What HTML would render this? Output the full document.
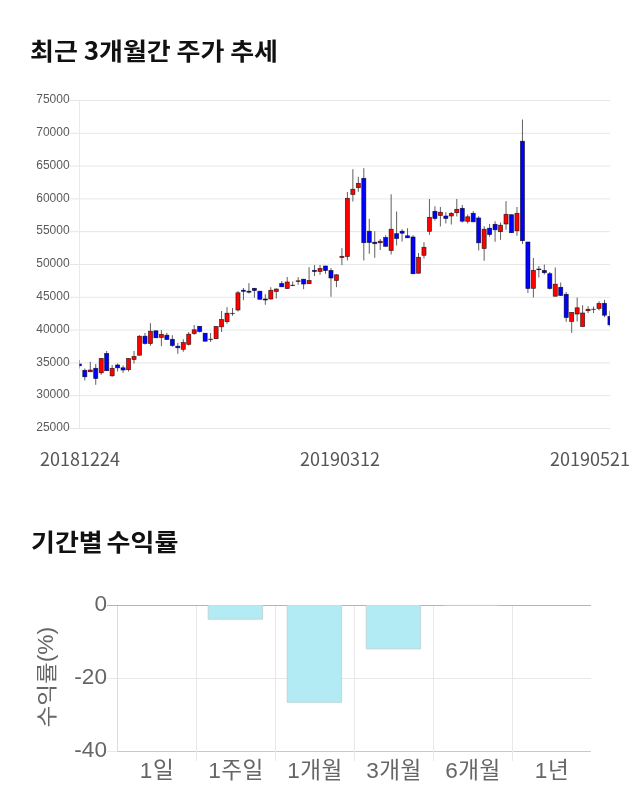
<!DOCTYPE html>
<html lang="ko"><head><meta charset="utf-8"><title>최근 3개월간 주가 추세</title>
<style>
html,body{margin:0;padding:0;background:#fff;}
body{width:640px;height:810px;position:relative;overflow:hidden;font-family:"Liberation Sans","Noto Sans CJK KR",sans-serif;}
h2{position:absolute;margin:0;left:30px;font-family:"Noto Sans CJK KR","Liberation Sans",sans-serif;font-weight:700;font-size:26px;line-height:36px;color:#111;white-space:nowrap;word-spacing:-1.5px;transform-origin:0 50%;transform:scaleY(0.927);}
h2 span{display:inline-block;transform-origin:0 78%;transform:scaleY(1.079);}
.yl{font-family:"Liberation Sans",sans-serif;font-size:12px;fill:#5a5a5a;}
.bx{font-size:23px;letter-spacing:0.5px;}
.xl{position:absolute;top:444px;font-family:"Noto Sans CJK KR","Liberation Sans",sans-serif;font-size:18px;line-height:28px;color:#555;white-space:nowrap;}
.bl{font-family:"Liberation Sans","Noto Sans CJK KR",sans-serif;font-size:22.6px;fill:#666;}
</style></head><body>
<h2 style="top:32.3px">최근 <span>3</span>개월간 주가 추세</h2>
<svg width="640" height="500" viewBox="0 0 640 500" style="position:absolute;left:0;top:0">
<line x1="69.5" x2="610" y1="100.50" y2="100.50" stroke="#e6e6e6" stroke-width="1"/>
<line x1="69.5" x2="610" y1="133.30" y2="133.30" stroke="#e6e6e6" stroke-width="1"/>
<line x1="69.5" x2="610" y1="166.10" y2="166.10" stroke="#e6e6e6" stroke-width="1"/>
<line x1="69.5" x2="610" y1="198.90" y2="198.90" stroke="#e6e6e6" stroke-width="1"/>
<line x1="69.5" x2="610" y1="231.70" y2="231.70" stroke="#e6e6e6" stroke-width="1"/>
<line x1="69.5" x2="610" y1="264.50" y2="264.50" stroke="#e6e6e6" stroke-width="1"/>
<line x1="69.5" x2="610" y1="297.30" y2="297.30" stroke="#e6e6e6" stroke-width="1"/>
<line x1="69.5" x2="610" y1="330.10" y2="330.10" stroke="#e6e6e6" stroke-width="1"/>
<line x1="69.5" x2="610" y1="362.90" y2="362.90" stroke="#e6e6e6" stroke-width="1"/>
<line x1="69.5" x2="610" y1="395.70" y2="395.70" stroke="#e6e6e6" stroke-width="1"/>
<line x1="69.5" x2="610" y1="428.50" y2="428.50" stroke="#e6e6e6" stroke-width="1"/>
<line x1="79.5" x2="79.5" y1="100" y2="428.5" stroke="#e9e9e9" stroke-width="1"/>
<clipPath id="cp"><rect x="79.5" y="95" width="530.5" height="340"/></clipPath>
<g clip-path="url(#cp)">
<line x1="79.33" x2="79.33" y1="360.0" y2="368.5" stroke="#606060" stroke-width="1"/>
<rect x="77.28" y="364.0" width="4.1" height="1.8" fill="#0000ff" stroke="#000" stroke-opacity="0.72" stroke-width="0.7"/>
<line x1="84.80" x2="84.80" y1="368.5" y2="380.5" stroke="#606060" stroke-width="1"/>
<rect x="82.75" y="370.3" width="4.1" height="6.5" fill="#0000ff" stroke="#000" stroke-opacity="0.72" stroke-width="0.7"/>
<line x1="90.27" x2="90.27" y1="361.8" y2="372.0" stroke="#606060" stroke-width="1"/>
<rect x="88.22" y="370.0" width="4.1" height="1.8" fill="#ff0000" stroke="#000" stroke-opacity="0.72" stroke-width="0.7"/>
<line x1="95.74" x2="95.74" y1="364.0" y2="384.8" stroke="#606060" stroke-width="1"/>
<rect x="93.69" y="368.3" width="4.1" height="10.2" fill="#0000ff" stroke="#000" stroke-opacity="0.72" stroke-width="0.7"/>
<line x1="101.21" x2="101.21" y1="358.0" y2="374.8" stroke="#606060" stroke-width="1"/>
<rect x="99.16" y="358.5" width="4.1" height="14.3" fill="#ff0000" stroke="#000" stroke-opacity="0.72" stroke-width="0.7"/>
<line x1="106.68" x2="106.68" y1="351.0" y2="371.0" stroke="#606060" stroke-width="1"/>
<rect x="104.63" y="353.5" width="4.1" height="17.2" fill="#0000ff" stroke="#000" stroke-opacity="0.72" stroke-width="0.7"/>
<line x1="112.15" x2="112.15" y1="365.0" y2="376.8" stroke="#606060" stroke-width="1"/>
<rect x="110.10" y="368.3" width="4.1" height="7.5" fill="#ff0000" stroke="#000" stroke-opacity="0.72" stroke-width="0.7"/>
<line x1="117.62" x2="117.62" y1="363.5" y2="371.5" stroke="#606060" stroke-width="1"/>
<rect x="115.57" y="365.0" width="4.1" height="2.8" fill="#0000ff" stroke="#000" stroke-opacity="0.72" stroke-width="0.7"/>
<line x1="123.09" x2="123.09" y1="365.5" y2="372.8" stroke="#606060" stroke-width="1"/>
<rect x="121.04" y="367.8" width="4.1" height="2.2" fill="#0000ff" stroke="#000" stroke-opacity="0.72" stroke-width="0.7"/>
<line x1="128.56" x2="128.56" y1="358.3" y2="371.5" stroke="#606060" stroke-width="1"/>
<rect x="126.51" y="358.5" width="4.1" height="11.2" fill="#ff0000" stroke="#000" stroke-opacity="0.72" stroke-width="0.7"/>
<line x1="134.03" x2="134.03" y1="351.0" y2="363.5" stroke="#606060" stroke-width="1"/>
<rect x="131.98" y="356.5" width="4.1" height="3.0" fill="#ff0000" stroke="#000" stroke-opacity="0.72" stroke-width="0.7"/>
<line x1="139.51" x2="139.51" y1="335.2" y2="355.5" stroke="#606060" stroke-width="1"/>
<rect x="137.46" y="336.2" width="4.1" height="19.0" fill="#ff0000" stroke="#000" stroke-opacity="0.72" stroke-width="0.7"/>
<line x1="144.98" x2="144.98" y1="333.0" y2="344.5" stroke="#606060" stroke-width="1"/>
<rect x="142.93" y="336.2" width="4.1" height="7.3" fill="#0000ff" stroke="#000" stroke-opacity="0.72" stroke-width="0.7"/>
<line x1="150.45" x2="150.45" y1="323.2" y2="345.8" stroke="#606060" stroke-width="1"/>
<rect x="148.40" y="331.2" width="4.1" height="12.3" fill="#ff0000" stroke="#000" stroke-opacity="0.72" stroke-width="0.7"/>
<line x1="155.92" x2="155.92" y1="330.5" y2="338.0" stroke="#606060" stroke-width="1"/>
<rect x="153.87" y="330.8" width="4.1" height="7.0" fill="#0000ff" stroke="#000" stroke-opacity="0.72" stroke-width="0.7"/>
<line x1="161.39" x2="161.39" y1="330.0" y2="346.2" stroke="#606060" stroke-width="1"/>
<rect x="159.34" y="334.3" width="4.1" height="3.2" fill="#ff0000" stroke="#000" stroke-opacity="0.72" stroke-width="0.7"/>
<line x1="166.86" x2="166.86" y1="332.8" y2="339.8" stroke="#606060" stroke-width="1"/>
<rect x="164.81" y="335.2" width="4.1" height="4.3" fill="#0000ff" stroke="#000" stroke-opacity="0.72" stroke-width="0.7"/>
<line x1="172.33" x2="172.33" y1="335.2" y2="346.8" stroke="#606060" stroke-width="1"/>
<rect x="170.28" y="339.3" width="4.1" height="6.2" fill="#0000ff" stroke="#000" stroke-opacity="0.72" stroke-width="0.7"/>
<line x1="177.80" x2="177.80" y1="343.0" y2="353.8" stroke="#606060" stroke-width="1"/>
<rect x="175.75" y="346.2" width="4.1" height="1.6" fill="#0000ff" stroke="#000" stroke-opacity="0.72" stroke-width="0.7"/>
<line x1="183.27" x2="183.27" y1="339.2" y2="351.8" stroke="#606060" stroke-width="1"/>
<rect x="181.22" y="342.5" width="4.1" height="6.8" fill="#ff0000" stroke="#000" stroke-opacity="0.72" stroke-width="0.7"/>
<line x1="188.74" x2="188.74" y1="332.0" y2="345.5" stroke="#606060" stroke-width="1"/>
<rect x="186.69" y="334.2" width="4.1" height="10.1" fill="#ff0000" stroke="#000" stroke-opacity="0.72" stroke-width="0.7"/>
<line x1="194.21" x2="194.21" y1="325.0" y2="334.8" stroke="#606060" stroke-width="1"/>
<rect x="192.16" y="329.8" width="4.1" height="3.7" fill="#ff0000" stroke="#000" stroke-opacity="0.72" stroke-width="0.7"/>
<line x1="199.68" x2="199.68" y1="326.0" y2="332.5" stroke="#606060" stroke-width="1"/>
<rect x="197.63" y="326.3" width="4.1" height="5.2" fill="#0000ff" stroke="#000" stroke-opacity="0.72" stroke-width="0.7"/>
<line x1="205.15" x2="205.15" y1="333.0" y2="341.5" stroke="#606060" stroke-width="1"/>
<rect x="203.10" y="333.2" width="4.1" height="8.0" fill="#0000ff" stroke="#000" stroke-opacity="0.72" stroke-width="0.7"/>
<line x1="210.62" x2="210.62" y1="333.0" y2="342.0" stroke="#606060" stroke-width="1"/>
<rect x="208.57" y="339.0" width="4.1" height="0.7" fill="#333333" stroke="#000" stroke-opacity="0.35" stroke-width="0.7"/>
<line x1="216.09" x2="216.09" y1="326.2" y2="339.0" stroke="#606060" stroke-width="1"/>
<rect x="214.04" y="326.5" width="4.1" height="12.2" fill="#ff0000" stroke="#000" stroke-opacity="0.72" stroke-width="0.7"/>
<line x1="221.56" x2="221.56" y1="311.0" y2="332.0" stroke="#606060" stroke-width="1"/>
<rect x="219.51" y="319.5" width="4.1" height="7.3" fill="#ff0000" stroke="#000" stroke-opacity="0.72" stroke-width="0.7"/>
<line x1="227.03" x2="227.03" y1="307.2" y2="323.8" stroke="#606060" stroke-width="1"/>
<rect x="224.98" y="313.2" width="4.1" height="8.5" fill="#ff0000" stroke="#000" stroke-opacity="0.72" stroke-width="0.7"/>
<line x1="232.50" x2="232.50" y1="308.0" y2="315.8" stroke="#606060" stroke-width="1"/>
<rect x="230.45" y="313.2" width="4.1" height="0.6" fill="#333333" stroke="#000" stroke-opacity="0.35" stroke-width="0.7"/>
<line x1="237.97" x2="237.97" y1="291.0" y2="311.5" stroke="#606060" stroke-width="1"/>
<rect x="235.92" y="292.8" width="4.1" height="17.2" fill="#ff0000" stroke="#000" stroke-opacity="0.72" stroke-width="0.7"/>
<line x1="243.44" x2="243.44" y1="288.0" y2="300.2" stroke="#606060" stroke-width="1"/>
<rect x="241.39" y="290.2" width="4.1" height="1.1" fill="#0000ff" stroke="#000" stroke-opacity="0.72" stroke-width="0.7"/>
<line x1="248.92" x2="248.92" y1="283.2" y2="293.5" stroke="#606060" stroke-width="1"/>
<rect x="246.87" y="291.2" width="4.1" height="1.0" fill="#0000ff" stroke="#000" stroke-opacity="0.72" stroke-width="0.7"/>
<line x1="254.39" x2="254.39" y1="288.0" y2="297.8" stroke="#606060" stroke-width="1"/>
<rect x="252.34" y="288.3" width="4.1" height="2.2" fill="#0000ff" stroke="#000" stroke-opacity="0.72" stroke-width="0.7"/>
<line x1="259.86" x2="259.86" y1="291.0" y2="299.5" stroke="#606060" stroke-width="1"/>
<rect x="257.81" y="291.2" width="4.1" height="8.1" fill="#0000ff" stroke="#000" stroke-opacity="0.72" stroke-width="0.7"/>
<line x1="265.33" x2="265.33" y1="294.2" y2="304.8" stroke="#606060" stroke-width="1"/>
<rect x="263.28" y="299.0" width="4.1" height="1.0" fill="#0000ff" stroke="#000" stroke-opacity="0.72" stroke-width="0.7"/>
<line x1="270.80" x2="270.80" y1="287.2" y2="299.5" stroke="#606060" stroke-width="1"/>
<rect x="268.75" y="290.3" width="4.1" height="8.7" fill="#ff0000" stroke="#000" stroke-opacity="0.72" stroke-width="0.7"/>
<line x1="276.27" x2="276.27" y1="288.5" y2="298.5" stroke="#606060" stroke-width="1"/>
<rect x="274.22" y="289.0" width="4.1" height="2.5" fill="#ff0000" stroke="#000" stroke-opacity="0.72" stroke-width="0.7"/>
<line x1="281.74" x2="281.74" y1="281.0" y2="287.0" stroke="#606060" stroke-width="1"/>
<rect x="279.69" y="283.5" width="4.1" height="3.3" fill="#0000ff" stroke="#000" stroke-opacity="0.72" stroke-width="0.7"/>
<line x1="287.21" x2="287.21" y1="277.0" y2="288.8" stroke="#606060" stroke-width="1"/>
<rect x="285.16" y="282.0" width="4.1" height="6.5" fill="#ff0000" stroke="#000" stroke-opacity="0.72" stroke-width="0.7"/>
<line x1="292.68" x2="292.68" y1="281.5" y2="286.2" stroke="#606060" stroke-width="1"/>
<rect x="290.63" y="285.0" width="4.1" height="0.7" fill="#333333" stroke="#000" stroke-opacity="0.35" stroke-width="0.7"/>
<line x1="298.15" x2="298.15" y1="277.2" y2="284.8" stroke="#606060" stroke-width="1"/>
<rect x="296.10" y="280.8" width="4.1" height="0.7" fill="#ff0000" stroke="#000" stroke-opacity="0.72" stroke-width="0.7"/>
<line x1="303.62" x2="303.62" y1="279.0" y2="289.2" stroke="#606060" stroke-width="1"/>
<rect x="301.57" y="279.2" width="4.1" height="4.8" fill="#0000ff" stroke="#000" stroke-opacity="0.72" stroke-width="0.7"/>
<line x1="309.09" x2="309.09" y1="267.2" y2="283.8" stroke="#606060" stroke-width="1"/>
<rect x="307.04" y="280.5" width="4.1" height="3.2" fill="#ff0000" stroke="#000" stroke-opacity="0.72" stroke-width="0.7"/>
<line x1="314.56" x2="314.56" y1="265.0" y2="276.0" stroke="#606060" stroke-width="1"/>
<rect x="312.51" y="270.3" width="4.1" height="1.2" fill="#0000ff" stroke="#000" stroke-opacity="0.72" stroke-width="0.7"/>
<line x1="320.03" x2="320.03" y1="265.0" y2="274.8" stroke="#606060" stroke-width="1"/>
<rect x="317.98" y="268.5" width="4.1" height="3.0" fill="#ff0000" stroke="#000" stroke-opacity="0.72" stroke-width="0.7"/>
<line x1="325.50" x2="325.50" y1="265.8" y2="273.8" stroke="#606060" stroke-width="1"/>
<rect x="323.45" y="266.0" width="4.1" height="4.5" fill="#0000ff" stroke="#000" stroke-opacity="0.72" stroke-width="0.7"/>
<line x1="330.97" x2="330.97" y1="268.0" y2="296.8" stroke="#606060" stroke-width="1"/>
<rect x="328.92" y="270.5" width="4.1" height="7.5" fill="#0000ff" stroke="#000" stroke-opacity="0.72" stroke-width="0.7"/>
<line x1="336.44" x2="336.44" y1="274.3" y2="287.2" stroke="#606060" stroke-width="1"/>
<rect x="334.39" y="274.8" width="4.1" height="5.7" fill="#ff0000" stroke="#000" stroke-opacity="0.72" stroke-width="0.7"/>
<line x1="341.91" x2="341.91" y1="248.2" y2="265.2" stroke="#606060" stroke-width="1"/>
<rect x="339.86" y="256.3" width="4.1" height="1.2" fill="#ff0000" stroke="#000" stroke-opacity="0.72" stroke-width="0.7"/>
<line x1="347.38" x2="347.38" y1="192.0" y2="260.5" stroke="#606060" stroke-width="1"/>
<rect x="345.33" y="198.3" width="4.1" height="58.2" fill="#ff0000" stroke="#000" stroke-opacity="0.72" stroke-width="0.7"/>
<line x1="352.86" x2="352.86" y1="169.2" y2="201.5" stroke="#606060" stroke-width="1"/>
<rect x="350.81" y="189.2" width="4.1" height="5.3" fill="#ff0000" stroke="#000" stroke-opacity="0.72" stroke-width="0.7"/>
<line x1="358.33" x2="358.33" y1="176.8" y2="191.8" stroke="#606060" stroke-width="1"/>
<rect x="356.28" y="183.3" width="4.1" height="4.4" fill="#ff0000" stroke="#000" stroke-opacity="0.72" stroke-width="0.7"/>
<line x1="363.80" x2="363.80" y1="168.2" y2="260.5" stroke="#606060" stroke-width="1"/>
<rect x="361.75" y="178.3" width="4.1" height="64.4" fill="#0000ff" stroke="#000" stroke-opacity="0.72" stroke-width="0.7"/>
<line x1="369.27" x2="369.27" y1="218.8" y2="253.8" stroke="#606060" stroke-width="1"/>
<rect x="367.22" y="231.2" width="4.1" height="11.3" fill="#0000ff" stroke="#000" stroke-opacity="0.72" stroke-width="0.7"/>
<line x1="374.74" x2="374.74" y1="231.2" y2="257.8" stroke="#606060" stroke-width="1"/>
<rect x="372.69" y="242.2" width="4.1" height="1.5" fill="#0000ff" stroke="#000" stroke-opacity="0.72" stroke-width="0.7"/>
<line x1="380.21" x2="380.21" y1="239.0" y2="250.0" stroke="#606060" stroke-width="1"/>
<rect x="378.16" y="241.2" width="4.1" height="1.6" fill="#ff0000" stroke="#000" stroke-opacity="0.72" stroke-width="0.7"/>
<line x1="385.68" x2="385.68" y1="235.2" y2="246.5" stroke="#606060" stroke-width="1"/>
<rect x="383.63" y="237.5" width="4.1" height="8.8" fill="#0000ff" stroke="#000" stroke-opacity="0.72" stroke-width="0.7"/>
<line x1="391.15" x2="391.15" y1="194.3" y2="254.5" stroke="#606060" stroke-width="1"/>
<rect x="389.10" y="229.2" width="4.1" height="21.3" fill="#ff0000" stroke="#000" stroke-opacity="0.72" stroke-width="0.7"/>
<line x1="396.62" x2="396.62" y1="211.5" y2="245.5" stroke="#606060" stroke-width="1"/>
<rect x="394.57" y="233.7" width="4.1" height="4.8" fill="#0000ff" stroke="#000" stroke-opacity="0.72" stroke-width="0.7"/>
<line x1="402.09" x2="402.09" y1="229.2" y2="241.5" stroke="#606060" stroke-width="1"/>
<rect x="400.04" y="231.2" width="4.1" height="2.0" fill="#0000ff" stroke="#000" stroke-opacity="0.72" stroke-width="0.7"/>
<line x1="407.56" x2="407.56" y1="228.2" y2="238.0" stroke="#606060" stroke-width="1"/>
<rect x="405.51" y="235.8" width="4.1" height="2.0" fill="#0000ff" stroke="#000" stroke-opacity="0.72" stroke-width="0.7"/>
<line x1="413.03" x2="413.03" y1="235.2" y2="274.0" stroke="#606060" stroke-width="1"/>
<rect x="410.98" y="237.0" width="4.1" height="36.8" fill="#0000ff" stroke="#000" stroke-opacity="0.72" stroke-width="0.7"/>
<line x1="418.50" x2="418.50" y1="253.0" y2="273.5" stroke="#606060" stroke-width="1"/>
<rect x="416.45" y="257.3" width="4.1" height="15.9" fill="#ff0000" stroke="#000" stroke-opacity="0.72" stroke-width="0.7"/>
<line x1="423.97" x2="423.97" y1="242.2" y2="258.5" stroke="#606060" stroke-width="1"/>
<rect x="421.92" y="247.3" width="4.1" height="8.0" fill="#ff0000" stroke="#000" stroke-opacity="0.72" stroke-width="0.7"/>
<line x1="429.44" x2="429.44" y1="199.0" y2="234.8" stroke="#606060" stroke-width="1"/>
<rect x="427.39" y="217.3" width="4.1" height="14.0" fill="#ff0000" stroke="#000" stroke-opacity="0.72" stroke-width="0.7"/>
<line x1="434.91" x2="434.91" y1="206.2" y2="220.5" stroke="#606060" stroke-width="1"/>
<rect x="432.86" y="211.3" width="4.1" height="7.2" fill="#0000ff" stroke="#000" stroke-opacity="0.72" stroke-width="0.7"/>
<line x1="440.38" x2="440.38" y1="207.0" y2="226.5" stroke="#606060" stroke-width="1"/>
<rect x="438.33" y="212.2" width="4.1" height="3.3" fill="#ff0000" stroke="#000" stroke-opacity="0.72" stroke-width="0.7"/>
<line x1="445.85" x2="445.85" y1="212.2" y2="223.5" stroke="#606060" stroke-width="1"/>
<rect x="443.80" y="216.0" width="4.1" height="2.5" fill="#0000ff" stroke="#000" stroke-opacity="0.72" stroke-width="0.7"/>
<line x1="451.32" x2="451.32" y1="212.2" y2="224.5" stroke="#606060" stroke-width="1"/>
<rect x="449.27" y="213.3" width="4.1" height="2.7" fill="#ff0000" stroke="#000" stroke-opacity="0.72" stroke-width="0.7"/>
<line x1="456.79" x2="456.79" y1="199.0" y2="216.5" stroke="#606060" stroke-width="1"/>
<rect x="454.74" y="209.3" width="4.1" height="3.4" fill="#ff0000" stroke="#000" stroke-opacity="0.72" stroke-width="0.7"/>
<line x1="462.26" x2="462.26" y1="205.0" y2="222.5" stroke="#606060" stroke-width="1"/>
<rect x="460.21" y="208.3" width="4.1" height="12.9" fill="#0000ff" stroke="#000" stroke-opacity="0.72" stroke-width="0.7"/>
<line x1="467.74" x2="467.74" y1="214.5" y2="223.5" stroke="#606060" stroke-width="1"/>
<rect x="465.69" y="216.8" width="4.1" height="4.5" fill="#ff0000" stroke="#000" stroke-opacity="0.72" stroke-width="0.7"/>
<line x1="473.21" x2="473.21" y1="211.2" y2="222.2" stroke="#606060" stroke-width="1"/>
<rect x="471.16" y="213.3" width="4.1" height="8.5" fill="#0000ff" stroke="#000" stroke-opacity="0.72" stroke-width="0.7"/>
<line x1="478.68" x2="478.68" y1="216.2" y2="250.5" stroke="#606060" stroke-width="1"/>
<rect x="476.63" y="218.0" width="4.1" height="24.8" fill="#0000ff" stroke="#000" stroke-opacity="0.72" stroke-width="0.7"/>
<line x1="484.15" x2="484.15" y1="226.2" y2="260.8" stroke="#606060" stroke-width="1"/>
<rect x="482.10" y="229.2" width="4.1" height="19.3" fill="#ff0000" stroke="#000" stroke-opacity="0.72" stroke-width="0.7"/>
<line x1="489.62" x2="489.62" y1="224.0" y2="236.8" stroke="#606060" stroke-width="1"/>
<rect x="487.57" y="228.2" width="4.1" height="6.3" fill="#0000ff" stroke="#000" stroke-opacity="0.72" stroke-width="0.7"/>
<line x1="495.09" x2="495.09" y1="221.2" y2="241.8" stroke="#606060" stroke-width="1"/>
<rect x="493.04" y="224.3" width="4.1" height="5.5" fill="#0000ff" stroke="#000" stroke-opacity="0.72" stroke-width="0.7"/>
<line x1="500.56" x2="500.56" y1="222.5" y2="239.8" stroke="#606060" stroke-width="1"/>
<rect x="498.51" y="225.2" width="4.1" height="6.5" fill="#ff0000" stroke="#000" stroke-opacity="0.72" stroke-width="0.7"/>
<line x1="506.03" x2="506.03" y1="201.2" y2="229.8" stroke="#606060" stroke-width="1"/>
<rect x="503.98" y="214.3" width="4.1" height="9.7" fill="#ff0000" stroke="#000" stroke-opacity="0.72" stroke-width="0.7"/>
<line x1="511.50" x2="511.50" y1="214.5" y2="233.0" stroke="#606060" stroke-width="1"/>
<rect x="509.45" y="214.7" width="4.1" height="18.0" fill="#0000ff" stroke="#000" stroke-opacity="0.72" stroke-width="0.7"/>
<line x1="516.97" x2="516.97" y1="207.0" y2="235.8" stroke="#606060" stroke-width="1"/>
<rect x="514.92" y="213.3" width="4.1" height="17.5" fill="#ff0000" stroke="#000" stroke-opacity="0.72" stroke-width="0.7"/>
<line x1="522.44" x2="522.44" y1="119.5" y2="244.0" stroke="#606060" stroke-width="1"/>
<rect x="520.39" y="141.2" width="4.1" height="99.5" fill="#0000ff" stroke="#000" stroke-opacity="0.72" stroke-width="0.7"/>
<line x1="527.91" x2="527.91" y1="241.8" y2="293.0" stroke="#606060" stroke-width="1"/>
<rect x="525.86" y="242.0" width="4.1" height="46.5" fill="#0000ff" stroke="#000" stroke-opacity="0.72" stroke-width="0.7"/>
<line x1="533.38" x2="533.38" y1="258.0" y2="297.5" stroke="#606060" stroke-width="1"/>
<rect x="531.33" y="270.3" width="4.1" height="18.0" fill="#ff0000" stroke="#000" stroke-opacity="0.72" stroke-width="0.7"/>
<line x1="538.85" x2="538.85" y1="266.0" y2="277.5" stroke="#606060" stroke-width="1"/>
<rect x="536.80" y="269.0" width="4.1" height="0.7" fill="#ff0000" stroke="#000" stroke-opacity="0.72" stroke-width="0.7"/>
<line x1="544.32" x2="544.32" y1="264.5" y2="274.5" stroke="#606060" stroke-width="1"/>
<rect x="542.27" y="270.5" width="4.1" height="2.2" fill="#0000ff" stroke="#000" stroke-opacity="0.72" stroke-width="0.7"/>
<line x1="549.79" x2="549.79" y1="272.0" y2="289.5" stroke="#606060" stroke-width="1"/>
<rect x="547.74" y="273.7" width="4.1" height="14.8" fill="#0000ff" stroke="#000" stroke-opacity="0.72" stroke-width="0.7"/>
<line x1="555.26" x2="555.26" y1="267.5" y2="296.5" stroke="#606060" stroke-width="1"/>
<rect x="553.21" y="284.2" width="4.1" height="12.0" fill="#ff0000" stroke="#000" stroke-opacity="0.72" stroke-width="0.7"/>
<line x1="560.73" x2="560.73" y1="282.5" y2="295.8" stroke="#606060" stroke-width="1"/>
<rect x="558.68" y="287.3" width="4.1" height="8.2" fill="#0000ff" stroke="#000" stroke-opacity="0.72" stroke-width="0.7"/>
<line x1="566.20" x2="566.20" y1="292.0" y2="321.8" stroke="#606060" stroke-width="1"/>
<rect x="564.15" y="294.3" width="4.1" height="23.2" fill="#0000ff" stroke="#000" stroke-opacity="0.72" stroke-width="0.7"/>
<line x1="571.68" x2="571.68" y1="312.0" y2="332.8" stroke="#606060" stroke-width="1"/>
<rect x="569.63" y="312.5" width="4.1" height="9.0" fill="#ff0000" stroke="#000" stroke-opacity="0.72" stroke-width="0.7"/>
<line x1="577.15" x2="577.15" y1="297.5" y2="321.5" stroke="#606060" stroke-width="1"/>
<rect x="575.10" y="307.8" width="4.1" height="6.2" fill="#ff0000" stroke="#000" stroke-opacity="0.72" stroke-width="0.7"/>
<line x1="582.62" x2="582.62" y1="305.2" y2="326.8" stroke="#606060" stroke-width="1"/>
<rect x="580.57" y="313.0" width="4.1" height="13.5" fill="#ff0000" stroke="#000" stroke-opacity="0.72" stroke-width="0.7"/>
<line x1="588.09" x2="588.09" y1="306.2" y2="313.2" stroke="#606060" stroke-width="1"/>
<rect x="586.04" y="309.3" width="4.1" height="1.4" fill="#ff0000" stroke="#000" stroke-opacity="0.72" stroke-width="0.7"/>
<line x1="593.56" x2="593.56" y1="306.5" y2="313.0" stroke="#606060" stroke-width="1"/>
<rect x="591.51" y="309.0" width="4.1" height="0.6" fill="#333333" stroke="#000" stroke-opacity="0.35" stroke-width="0.7"/>
<line x1="599.03" x2="599.03" y1="301.2" y2="310.5" stroke="#606060" stroke-width="1"/>
<rect x="596.98" y="303.5" width="4.1" height="5.0" fill="#ff0000" stroke="#000" stroke-opacity="0.72" stroke-width="0.7"/>
<line x1="604.50" x2="604.50" y1="299.8" y2="317.2" stroke="#606060" stroke-width="1"/>
<rect x="602.45" y="303.3" width="4.1" height="11.9" fill="#0000ff" stroke="#000" stroke-opacity="0.72" stroke-width="0.7"/>
<line x1="609.97" x2="609.97" y1="311.0" y2="326.5" stroke="#606060" stroke-width="1"/>
<rect x="607.92" y="316.5" width="4.1" height="8.3" fill="#0000ff" stroke="#000" stroke-opacity="0.72" stroke-width="0.7"/>
</g>
<text x="69.6" y="103.10" text-anchor="end" class="yl">75000</text>
<text x="69.6" y="135.90" text-anchor="end" class="yl">70000</text>
<text x="69.6" y="168.70" text-anchor="end" class="yl">65000</text>
<text x="69.6" y="201.50" text-anchor="end" class="yl">60000</text>
<text x="69.6" y="234.30" text-anchor="end" class="yl">55000</text>
<text x="69.6" y="267.10" text-anchor="end" class="yl">50000</text>
<text x="69.6" y="299.90" text-anchor="end" class="yl">45000</text>
<text x="69.6" y="332.70" text-anchor="end" class="yl">40000</text>
<text x="69.6" y="365.50" text-anchor="end" class="yl">35000</text>
<text x="69.6" y="398.30" text-anchor="end" class="yl">30000</text>
<text x="69.6" y="431.10" text-anchor="end" class="yl">25000</text>
</svg>
<div class="xl" style="left:40px;width:80px;text-align:center">20181224</div>
<div class="xl" style="left:300px;width:80px;text-align:center">20190312</div>
<div class="xl" style="left:550px;width:80px;text-align:right">20190521</div>
<h2 style="top:523px;left:31px;word-spacing:-3.5px">기간별 수익률</h2>
<svg width="640" height="240" viewBox="0 570 640 240" style="position:absolute;left:0;top:570px">
<g stroke="#e8e8e8" stroke-width="1">
<line x1="107" x2="591" y1="678.5" y2="678.5"/>
<line x1="107" x2="117.5" y1="751.5" y2="751.5"/>
<line x1="117.5" x2="117.5" y1="605" y2="752" stroke="#dcdcdc"/>
<line x1="117.5" x2="591" y1="751.5" y2="751.5" stroke="#c8c8c8"/>
<line x1="196.5" x2="196.5" y1="605" y2="761"/>
<line x1="275.5" x2="275.5" y1="605" y2="761"/>
<line x1="354.5" x2="354.5" y1="605" y2="761"/>
<line x1="433.5" x2="433.5" y1="605" y2="761"/>
<line x1="512.5" x2="512.5" y1="605" y2="761"/>
</g>
<line x1="107" x2="591" y1="605.5" y2="605.5" stroke="#b4b4b4" stroke-width="1"/>
<g fill="#b2ebf4" stroke="none">
<rect x="208.2" y="605.1" width="54.4" height="14.1"/>
<rect x="287.2" y="605.1" width="54.4" height="97.2"/>
<rect x="366.2" y="605.1" width="54.4" height="43.8"/>
<rect x="444" y="604.9" width="55" height="0.9" fill="#a9dde6"/>
</g>
<g fill="none" stroke="#bfd3d7" stroke-width="0.9">
<path d="M208.2 605.3V619.2H262.6V605.3"/>
<path d="M287.2 605.3V702.3H341.6V605.3"/>
<path d="M366.2 605.3V648.9H420.6V605.3"/>
</g>
<text class="bl" x="107" y="610.8" text-anchor="end">0</text>
<text class="bl" x="107" y="683.7" text-anchor="end">-20</text>
<text class="bl" x="107" y="756.6" text-anchor="end">-40</text>
<text class="bl bx" x="157" y="778" text-anchor="middle">1일</text>
<text class="bl bx" x="236" y="778" text-anchor="middle">1주일</text>
<text class="bl bx" x="315" y="778" text-anchor="middle">1개월</text>
<text class="bl bx" x="394" y="778" text-anchor="middle">3개월</text>
<text class="bl bx" x="473" y="778" text-anchor="middle">6개월</text>
<text class="bl bx" x="552" y="778" text-anchor="middle">1년</text>
<g transform="translate(52.5,677.5) rotate(-90)">
<text class="bl" transform="translate(15.2,1) scale(1.045,0.93)" text-anchor="end">수익률</text>
<text class="bl" x="15.2" y="0" text-anchor="start" style="font-size:22.8px">(%)</text>
</g>
</svg>
</body></html>
